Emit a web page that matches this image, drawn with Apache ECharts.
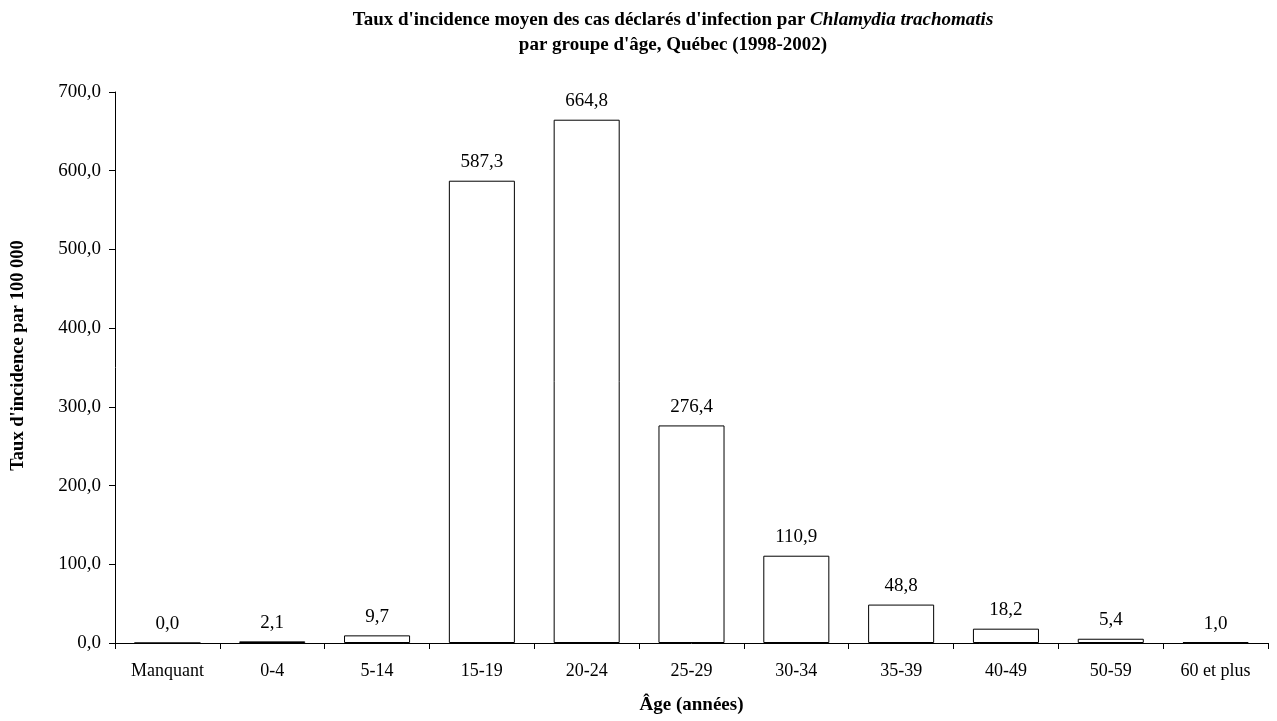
<!DOCTYPE html>
<html><head><meta charset="utf-8">
<script src="https://cdn.jsdelivr.net/npm/echarts@6/dist/echarts.min.js"></script>
<style>html,body{margin:0;padding:0;background:#fff}#c{width:1277px;height:721px}</style>
</head><body><div id="c"></div>
<script>
const categories = ['Manquant','0-4','5-14','15-19','20-24','25-29','30-34','35-39','40-49','50-59','60 et plus'];
const values = [0.0, 2.1, 9.7, 587.3, 664.8, 276.4, 110.9, 48.8, 18.2, 5.4, 1.0];
const yTicks = [0, 100, 200, 300, 400, 500, 600, 700];
const fmt = v => v.toFixed(1).replace('.', ',');
const F = "'Liberation Serif', 'Times New Roman', serif";
const chart = echarts.init(document.getElementById('c'));
chart.setOption({
  animation: false,
  backgroundColor: '#fff',
  title: {
    text: "{b|Taux d'incidence moyen des cas déclarés d'infection par }{i|Chlamydia trachomatis}\n{b|par groupe d'âge, Québec (1998-2002)}",
    left: 668, top: 3, textAlign: 'center',
    textStyle: {
      fontFamily: F, fontSize: 19, lineHeight: 25, color: '#000',
      rich: {
        b: {fontFamily: F, fontSize: 19, fontWeight: 'bold', color: '#000', lineHeight: 25},
        i: {fontFamily: F, fontSize: 19, fontWeight: 'bold', fontStyle: 'italic', color: '#000', lineHeight: 25}
      }
    }
  },
  grid: {left: 115, right: 9, top: 92, bottom: 78, containLabel: false},
  xAxis: {
    type: 'category', data: categories, boundaryGap: true,
    name: 'Âge (années)', nameLocation: 'middle', nameGap: 53,
    nameTextStyle: {fontFamily: F, fontSize: 19, fontWeight: 'bold', color: '#000'},
    axisLine: {lineStyle: {color: '#000', width: 1}},
    axisTick: {show: true, length: 6, inside: false, alignWithLabel: false, lineStyle: {color: '#000'}},
    axisLabel: {fontFamily: F, fontSize: 18, color: '#000', margin: 19, interval: 0}
  },
  yAxis: {
    type: 'value', min: 0, max: 700, interval: 100,
    name: "Taux d'incidence par 100 000", nameLocation: 'middle', nameGap: 87, nameRotate: 90,
    nameTextStyle: {fontFamily: F, fontSize: 18.5, fontWeight: 'bold', color: '#000', padding: [0, 0, 0, 24]},
    axisLine: {show: true, lineStyle: {color: '#000', width: 1}},
    axisTick: {show: true, length: 6, lineStyle: {color: '#000'}},
    splitLine: {show: false},
    axisLabel: {fontFamily: F, fontSize: 19, color: '#000', margin: 14,
      formatter: v => yTicks.includes(v) ? fmt(v) : ''}
  },
  series: [{
    type: 'bar', data: values, barWidth: '63%',
    itemStyle: {color: '#fff', borderColor: '#000', borderWidth: 1},
    label: {show: true, position: 'top', distance: 9, fontFamily: F, fontSize: 19, color: '#000',
      formatter: p => fmt(p.value)}
  }]
});
</script></body></html>
